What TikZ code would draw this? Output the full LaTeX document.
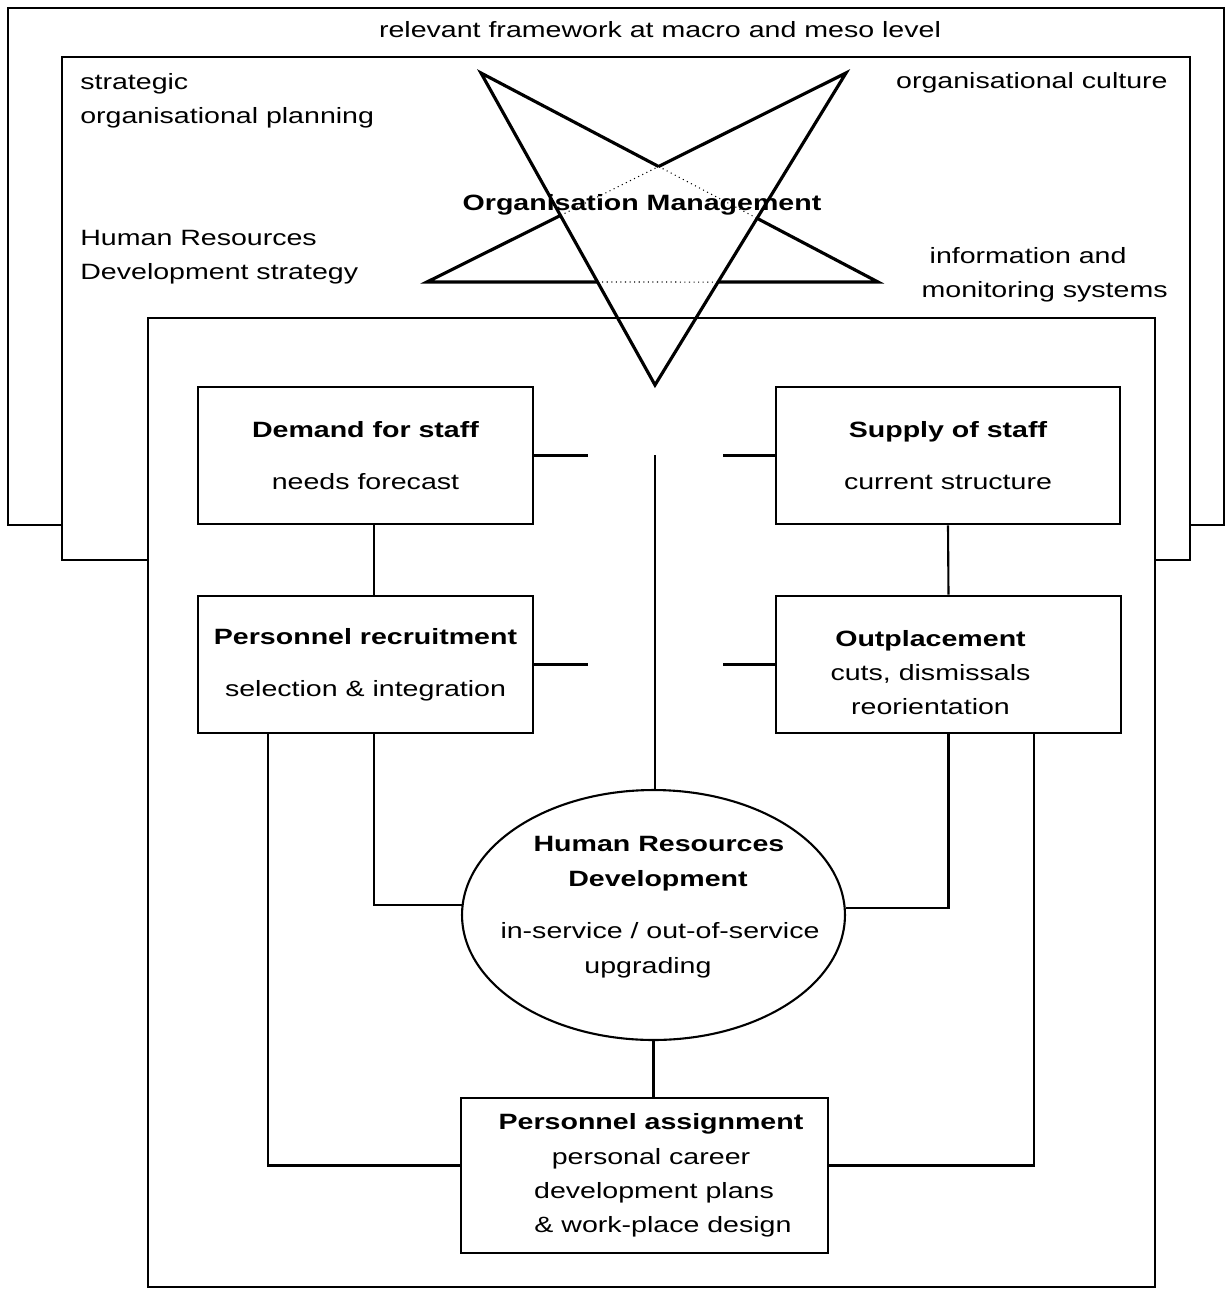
\documentclass[tikz,border=0pt]{standalone}
\usepackage{fontspec}
\setmainfont[FakeStretch=1.29]{Liberation Sans}
\usetikzlibrary{shapes.geometric,calc}
\begin{document}
\begin{tikzpicture}[x=0.02cm,y=-0.02cm,
  every node/.style={font=\fontsize{12.6}{19.6}\selectfont, inner sep=0pt},
  frame/.style={draw, fill=white, line width=1.1pt},
  stafbox/.style={draw, fill=white, rectangle, line width=1.5pt, align=center, inner sep=0pt},
  hrdshape/.style={draw, fill=white, ellipse, line width=1.2pt, align=center, inner sep=-0.7cm},
  link/.style={line width=1.2pt},
  starline/.style={line width=1.8pt, line join=miter},
  innerdot/.style={line width=0.6pt, dotted},
]
\useasboundingbox (0,0) rectangle (1226,1289);

% nested frames: macro/meso level, organisation, personnel management
\draw[frame] (8,8) rectangle (1224,525);
\draw[frame] (62,57) rectangle (1190,560);
\draw[frame] (148,318) rectangle (1155,1287);

% frame labels
\node (macro) at (660,30) {relevant framework at macro and meso level};
\node[anchor=west, align=left] (plan) at (80,101) {strategic\\organisational planning};
\node[anchor=east] (cult) at (1168,83) {organisational culture};
\node[anchor=west, align=left] (hrds) at (80,257) {Human Resources\\Development strategy};
\node[anchor=east, align=left] (info) at (1168,275) {\hspace*{0.16cm}information and\\monitoring systems};

% pentagram of organisation management
\coordinate (TL) at (481,73);
\coordinate (TR) at (846,73);
\coordinate (L)  at (427,282);
\coordinate (R)  at (878,282);
\coordinate (B)  at (655,385);
\coordinate (P1) at (intersection of TL--R and TR--L);
\coordinate (P2) at (intersection of TR--L and TL--B);
\coordinate (P3) at (intersection of TL--R and TR--B);
\coordinate (P4) at (intersection of L--R and TL--B);
\coordinate (P5) at (intersection of L--R and TR--B);
\draw[starline] (P1) -- (TL) -- (B) -- (TR) -- (P1);
\draw[starline] (P2) -- (L) -- (P4);
\draw[starline] (P3) -- (R) -- (P5);
\draw[innerdot] (P2) -- (P1) -- (P3);
\draw[innerdot] (P4) -- (P5);
\node (om) at (642,205) {\bfseries Organisation Management};

% personnel management boxes
\node[stafbox, minimum width=6.7cm, minimum height=2.74cm] (dem) at (365.5,455.5)
  {\textbf{Demand for staff}\\[0.35cm]needs forecast};
\node[stafbox, minimum width=6.88cm, minimum height=2.74cm] (sup) at (948,455.5)
  {\textbf{Supply of staff}\\[0.35cm]current structure};
\node[stafbox, minimum width=6.7cm, minimum height=2.74cm] (rec) at (365.5,664.5)
  {\textbf{Personnel recruitment}\\[0.35cm]selection \& integration};
\node[stafbox, minimum width=6.9cm, minimum height=2.74cm] (out) at (948.5,664.5)
  {\mbox{\rule{0pt}{18.3pt}\textbf{Outplacement}\hspace{0.72cm}}\\
   \mbox{cuts, dismissals\hspace{0.72cm}}\\
   \mbox{reorientation\hspace{0.72cm}}};
\node[hrdshape, minimum width=7.66cm, minimum height=5cm] (hrd) at (653.5,915)
  {\mbox{\hspace{0.22cm}\textbf{Human Resources}}\\
   \mbox{\hspace{0.18cm}\textbf{Development}}\\[0.36cm]
   \mbox{\hspace{0.26cm}in-service / out-of-service}\\
   \mbox{upgrading\hspace{0.22cm}\rule[-11.7pt]{0pt}{1pt}}};
\node[stafbox, minimum width=7.34cm, minimum height=3.1cm] (asg) at (644.5,1175.5)
  {\mbox{\hspace{0.26cm}\textbf{Personnel assignment}}\\
   \mbox{\hspace{0.26cm}personal career}\\
   \mbox{\hspace{0.38cm}development plans}\\
   \mbox{\hspace{0.74cm}\& work-place design}};

% connectors
\coordinate (vtop) at (655,455);
\draw[link] (vtop) -- (vtop |- hrd.north);
\coordinate (demstub) at (588,455.5);
\coordinate (supstub) at (723,455.5);
\coordinate (recstub) at (588,664.5);
\coordinate (outstub) at (723,664.5);
\draw[link] (dem.east) -- (demstub);
\draw[link] (sup.west) -- (supstub);
\draw[link] (rec.east) -- (recstub);
\draw[link] (out.west) -- (outstub);
\draw[link] ($(dem.south)+(8.5,0)$) -- ($(rec.north)+(8.5,0)$);
\draw[link] (sup.south) -- (out.north);
\draw[link] ($(rec.south)+(8.5,0)$) |- (hrd.177.5);
\draw[link] (out.south) |- (hrd.2.5);
\draw[link] ($(rec.south)+(-97.5,0)$) |- ($(asg.west)+(0,-10)$);
\draw[link] ($(out.south)+(85.5,0)$) |- ($(asg.east)+(0,-10)$);
\draw[link] (hrd.south) -- (hrd.south |- asg.north);
\end{tikzpicture}
\end{document}
